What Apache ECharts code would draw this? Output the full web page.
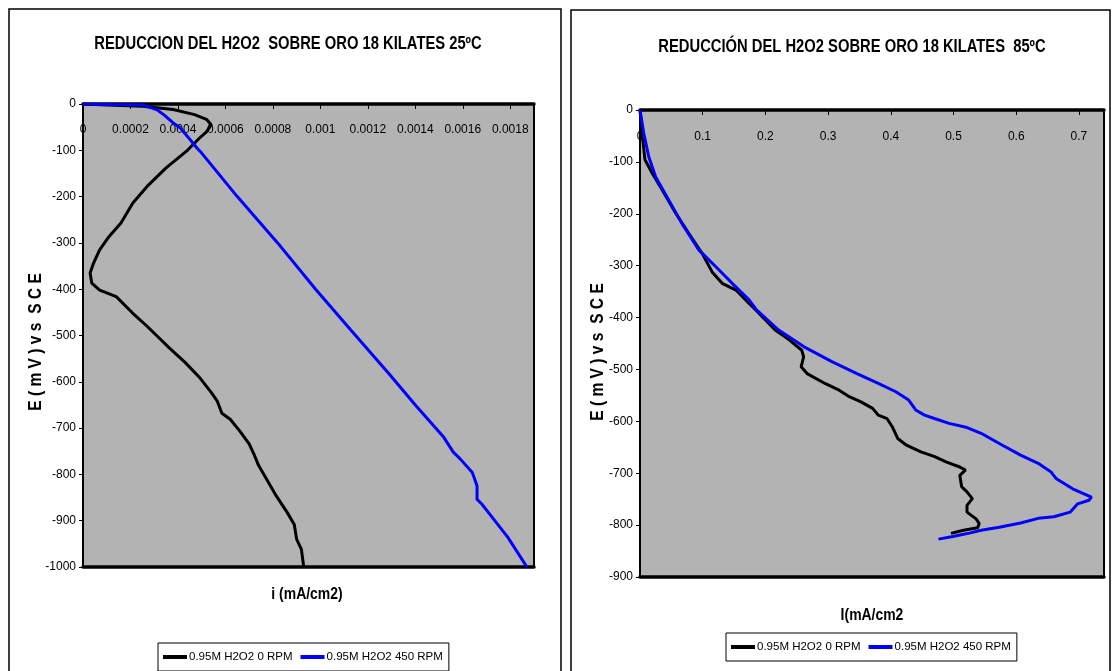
<!DOCTYPE html>
<html>
<head>
<meta charset="utf-8">
<script src="https://cdn.jsdelivr.net/npm/echarts@6/dist/echarts.min.js"></script>
<style>
  html, body { margin: 0; padding: 0; background: #fff; }
  #chart { width: 1112px; height: 671px; }
</style>
</head>
<body>
<div id="chart"></div>
<script>
// ---- 25 ºC : current density (mA/cm2) vs potential (mV vs SCE) ----
const i25_0rpm = [0, 0.00010, 0.00025, 0.00038, 0.00047, 0.00052, 0.00054, 0.00052, 0.00049, 0.00044,
  0.00035, 0.00027, 0.00021, 0.00016, 0.00011, 0.00007, 0.000044, 0.00003, 0.000037, 0.00007,
  0.00014, 0.00021, 0.00027, 0.00031, 0.00036, 0.00043, 0.00049, 0.00054, 0.000565, 0.000585,
  0.00062, 0.00066, 0.00070, 0.00072, 0.00074, 0.00077, 0.00081, 0.00086, 0.00089, 0.00090,
  0.00092, 0.00093];
const e25_0rpm = [0, -2, -5, -12, -23, -33, -45, -60, -74, -100,
  -138, -178, -214, -257, -286, -315, -344, -365, -387, -402,
  -416, -452, -480, -500, -525, -558, -590, -623, -641, -668,
  -681, -706, -734, -756, -781, -807, -843, -882, -908, -940,
  -962, -1000];

const i25_450rpm = [0, 0.00012, 0.00025, 0.00031, 0.00034, 0.00038, 0.00041, 0.00044, 0.00048, 0.00050,
  0.00065, 0.00082, 0.00098, 0.00113, 0.00129, 0.00140, 0.00152, 0.00156, 0.00159, 0.00164,
  0.00165, 0.00166, 0.00166, 0.00168, 0.00172, 0.00179, 0.00187];
const e25_450rpm = [0, -1, -2, -12, -23, -41, -52, -70, -95, -106,
  -200, -300, -400, -489, -583, -650, -720, -752, -767, -796,
  -810, -825, -854, -864, -890, -936, -1000];

// ---- 85 ºC ----
const i85_0rpm = [0, 0.0045, 0.008, 0.0195, 0.0355, 0.057, 0.078, 0.099, 0.115, 0.131,
  0.153, 0.174, 0.185, 0.2155, 0.238, 0.258, 0.261, 0.257, 0.2665, 0.295,
  0.3175, 0.3345, 0.3516, 0.371, 0.380, 0.394, 0.4026, 0.411, 0.425, 0.448,
  0.470, 0.488, 0.510, 0.519, 0.510, 0.513, 0.5215, 0.530, 0.5215, 0.5215,
  0.536, 0.541, 0.5385, 0.516, 0.496];
const e85_0rpm = [0, -58, -96, -122, -154, -199, -238, -276, -312, -334,
  -347, -373, -386, -424, -443, -463, -476, -495, -508, -527,
  -540, -553, -562, -575, -588, -595, -611, -633, -646, -659,
  -668, -678, -688, -694, -704, -726, -736, -749, -762, -775,
  -788, -797, -805, -810, -816];

const i85_450rpm = [0, 0.006, 0.014, 0.025, 0.046, 0.067, 0.094, 0.121, 0.147, 0.174,
  0.185, 0.221, 0.261, 0.306, 0.346, 0.380, 0.408, 0.4285, 0.4397, 0.4537,
  0.4707, 0.493, 0.5216, 0.544, 0.578, 0.607, 0.635, 0.655, 0.6635, 0.690,
  0.720, 0.716, 0.698, 0.686, 0.660, 0.635, 0.607, 0.573, 0.544, 0.527,
  0.499, 0.476];
const e85_450rpm = [0, -45, -90, -129, -174, -219, -270, -302, -334, -366,
  -384, -424, -456, -485, -508, -527, -543, -559, -578, -588,
  -595, -604, -612, -623, -646, -665, -681, -697, -710, -730,
  -746, -752, -759, -775, -784, -787, -796, -804, -810, -815,
  -822, -827];

const seriesNames = ['0.95M H2O2 0 RPM', '0.95M H2O2 450 RPM'];
const titles = ['REDUCCION DEL H2O2  SOBRE ORO 18 KILATES 25ºC', 'REDUCCIÓN DEL H2O2 SOBRE ORO 18 KILATES  85ºC'];
const xTitles = ['i (mA/cm2)', 'I(mA/cm2'];
const yTitle = 'E ( m V ) v s  S C E';

const FONT = "'Liberation Sans Narrow', 'Liberation Sans', Arial, sans-serif";
const BLACK = '#000000';
const BLUE = '#0000ff';
const PLOT_BG = '#b3b3b3';
const NARROW = 0.82;   // horizontal squeeze for the condensed headings

const pairs = (xs, ys) => xs.map((x, k) => [x, ys[k]]);

function xAxisPair(gridIndex, max, interval, digits, margin) {
  return [
    {
      gridIndex, type: 'value', position: 'top', min: 0, max, interval,
      axisLine: { show: true, onZero: false, lineStyle: { color: BLACK, width: 3.5 } },
      axisTick: { show: true, inside: true, length: 5, lineStyle: { color: BLACK, width: 1 } },
      axisLabel: {
        show: true, inside: true, margin, showMaxLabel: false, showMinLabel: true,
        color: BLACK, fontFamily: FONT, fontSize: 12,
        formatter: v => String(+v.toFixed(digits))
      },
      splitLine: { show: false }
    },
    {
      gridIndex, type: 'value', position: 'bottom', min: 0, max,
      axisLine: { show: true, onZero: false, lineStyle: { color: BLACK, width: 3.5 } },
      axisTick: { show: false }, axisLabel: { show: false }, splitLine: { show: false }
    }
  ];
}

function yAxis(gridIndex, min) {
  return {
    gridIndex, type: 'value', min, max: 0, interval: 100,
    axisLine: { show: true, onZero: false, lineStyle: { color: BLACK, width: 2 } },
    axisTick: { show: true, inside: false, length: 4, lineStyle: { color: BLACK, width: 1 } },
    axisLabel: { margin: 7, color: BLACK, fontFamily: FONT, fontSize: 12,
      formatter: v => String(Math.round(v)) },
    splitLine: { show: false }
  };
}

function lineSeries(name, color, xAxisIndex, yAxisIndex, data) {
  return {
    name, type: 'line', xAxisIndex, yAxisIndex, data,
    showSymbol: false, symbol: 'none', smooth: false, silent: true,
    lineStyle: { color, width: 3 }, itemStyle: { color },
    z: 5
  };
}

function legend(left, top) {
  return {
    data: seriesNames, left, top, orient: 'horizontal',
    backgroundColor: '#fff', borderColor: BLACK, borderWidth: 1,
    padding: [8, 6, 8, 5], itemGap: 8, itemWidth: 24, itemHeight: 4,
    icon: 'rect', selectedMode: false,
    textStyle: { color: BLACK, fontFamily: FONT, fontSize: 11.5, padding: [0, 0, 0, -3] }
  };
}

const boldText = (text, x, y, size, rotation) => ({
  type: 'text', x, y, rotation: rotation || 0, scaleX: NARROW, silent: true,
  style: {
    text, fill: BLACK, fontFamily: FONT, fontWeight: 'bold', fontSize: size,
    align: 'center', verticalAlign: 'middle'
  }
});

const chart = echarts.init(document.getElementById('chart'), null, { renderer: 'canvas' });

chart.setOption({
  animation: false,
  backgroundColor: '#ffffff',
  grid: [
    { left: 83, top: 104, width: 451, height: 463, show: true, backgroundColor: PLOT_BG,
      borderColor: BLACK, borderWidth: 2, containLabel: false },
    { left: 640, top: 110, width: 464, height: 467, show: true, backgroundColor: PLOT_BG,
      borderColor: BLACK, borderWidth: 2, containLabel: false }
  ],
  xAxis: [
    ...xAxisPair(0, 0.0019, 0.0002, 4, 20),
    ...xAxisPair(1, 0.74, 0.1, 2, 21)
  ],
  yAxis: [yAxis(0, -1000), yAxis(1, -900)],
  legend: [legend(158, 643), legend(726, 633)],
  series: [
    lineSeries(seriesNames[0], BLACK, 0, 0, pairs(i25_0rpm, e25_0rpm)),
    lineSeries(seriesNames[1], BLUE, 0, 0, pairs(i25_450rpm, e25_450rpm)),
    lineSeries(seriesNames[0], BLACK, 2, 1, pairs(i85_0rpm, e85_0rpm)),
    lineSeries(seriesNames[1], BLUE, 2, 1, pairs(i85_450rpm, e85_450rpm))
  ],
  graphic: [
    // chart frames
    { type: 'rect', silent: true, z: -10, shape: { x: 9, y: 9, width: 552, height: 720 },
      style: { fill: 'none', stroke: BLACK, lineWidth: 1.5 } },
    { type: 'rect', silent: true, z: -10, shape: { x: 571, y: 10, width: 539, height: 720 },
      style: { fill: 'none', stroke: BLACK, lineWidth: 1.5 } },
    // titles
    boldText(titles[0], 288, 44, 18),
    boldText(titles[1], 852, 47, 18),
    // axis titles
    boldText(xTitles[0], 307, 594, 17),
    boldText(xTitles[1], 872, 615, 17),
    boldText(yTitle, 36, 342, 19, Math.PI / 2),
    boldText(yTitle, 598, 352, 19, Math.PI / 2)
  ]
});
</script>
</body>
</html>
